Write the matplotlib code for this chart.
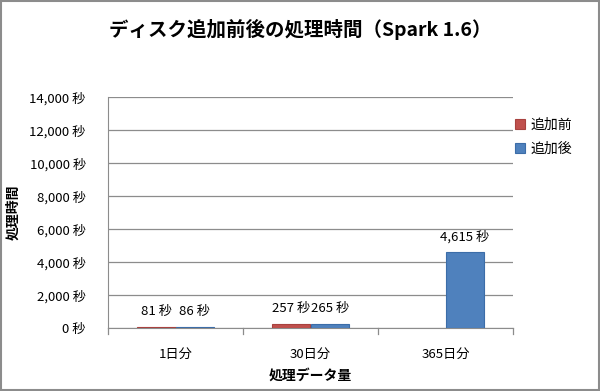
import matplotlib
matplotlib.use("Agg")
import matplotlib.pyplot as plt
from matplotlib.patches import Rectangle
import numpy as np

plt.rcParams['font.family'] = ['Noto Sans CJK JP', 'DejaVu Sans']

categories = ["1日分", "30日分", "365日分"]
series_names = ["追加前", "追加後"]
before = [81, 257, np.nan]
after = [86, 265, 4615]
yticks = [0, 2000, 4000, 6000, 8000, 10000, 12000, 14000]
colors = ["#C0504D", "#4F81BD"]
edges = ["#A8423F", "#3C6DA8"]

fig = plt.figure(figsize=(6.0, 3.91), dpi=100)
fig.patch.set_facecolor("white")
ax = fig.add_axes([0.18, 0.161, 0.675, 0.591])

x = np.arange(len(categories))
w = 0.285
for vals, off, c, e, name in [(before, -w/2, colors[0], edges[0], series_names[0]),
                              (after, w/2, colors[1], edges[1], series_names[1])]:
    v = np.array(vals, dtype=float)
    mask = ~np.isnan(v)
    ax.bar(x[mask] + off, v[mask], width=w, color=c, edgecolor=e, linewidth=0.8,
           label=name, zorder=3)
    for xi, vi in zip(x[mask] + off, v[mask]):
        ax.annotate(f"{int(vi):,} 秒", (xi, vi), xytext=(0, 6), textcoords="offset points",
                    ha="center", va="bottom", fontsize=9.5, color="#000000")

ax.set_xlim(-0.5, len(categories) - 0.5)
ax.set_ylim(0, 14000)
ax.set_yticks(yticks)
ax.set_yticklabels([f"{t:,} 秒" for t in yticks], fontsize=9.5)
ax.yaxis.grid(True, color="#8C8C8C", linewidth=0.9, zorder=0)
ax.set_axisbelow(True)
ax.tick_params(axis="y", length=0, pad=16)

ax.set_xticks(x)
ax.set_xticklabels(categories, fontsize=9.5)
ax.tick_params(axis="x", length=0, pad=14)
for b in np.arange(-0.5, len(categories), 1.0):
    ax.plot([b, b], [0, -0.025], transform=ax.get_xaxis_transform(), color="#8C8C8C",
            linewidth=0.9, clip_on=False)

for s in ["top", "right"]:
    ax.spines[s].set_visible(False)
ax.spines["left"].set_color("#8C8C8C")
ax.spines["bottom"].set_color("#8C8C8C")

ax.set_xlabel("処理データ量", fontsize=10, fontweight="bold", labelpad=6)
fig.text(0.022, 0.457, "処理時間", rotation=90, ha="center", va="center",
         fontsize=10, fontweight="bold")

fig.text(0.5, 0.925, "ディスク追加前後の処理時間（Spark 1.6）", ha="center", va="center",
         fontsize=14, fontweight="bold")

leg = ax.legend(loc="upper left", bbox_to_anchor=(0.975, 0.965), frameon=False,
                fontsize=10, handlelength=0.7, handleheight=0.7, handletextpad=0.4,
                labelspacing=0.75)

fig.add_artist(Rectangle((0.002, 0.003), 0.996, 0.994, transform=fig.transFigure,
                         fill=False, edgecolor="#8C8C8C", linewidth=1.5))

fig.savefig("out.png", dpi=100)
